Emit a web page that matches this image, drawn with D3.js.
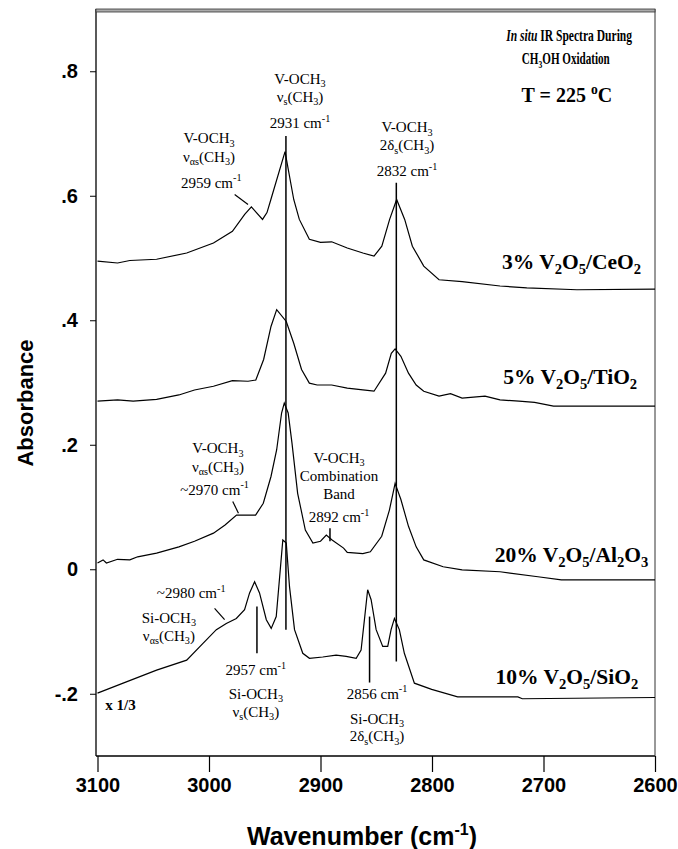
<!DOCTYPE html>
<html><head><meta charset="utf-8">
<script src="https://cdn.jsdelivr.net/npm/d3@7"></script>
<style>body{margin:0;background:#fff}svg{display:block}</style>
</head><body>
<svg id="c" width="678" height="849"></svg>
<script>
// ---------------- data (wavenumber cm-1, absorbance) ----------------
const wnTicks = [3100, 3000, 2900, 2800, 2700, 2600];
const absTicks = [0.8, 0.6, 0.4, 0.2, 0, -0.2];
const absTickLabels = [".8", ".6", ".4", ".2", "0", "-.2"];

const ceo2 = [[3100,0.495],[3082,0.492],[3071,0.496],[3047,0.498],[3020,0.508],[2996,0.524],[2979,0.543],[2968,0.570],[2962,0.582],[2952,0.562],[2948,0.573],[2944.5,0.594],[2931.8,0.671],[2924,0.594],[2919,0.562],[2910,0.530],[2900,0.525],[2890,0.526],[2876,0.516],[2862,0.508],[2852,0.503],[2845,0.519],[2838,0.562],[2831.7,0.594],[2824.5,0.562],[2817.6,0.519],[2807.4,0.487],[2793.7,0.465],[2773,0.462],[2739,0.455],[2715,0.452],[2670,0.449],[2600,0.450]];
const tio2 = [[3100,0.270],[3082,0.272],[3068,0.270],[3047,0.273],[3027,0.280],[3013,0.288],[2996,0.294],[2979,0.303],[2965,0.302],[2958,0.304],[2951,0.337],[2944.4,0.390],[2939.3,0.417],[2930.7,0.398],[2924,0.363],[2917,0.321],[2910,0.299],[2903,0.296],[2890,0.296],[2876,0.291],[2862,0.288],[2852,0.286],[2841.6,0.315],[2836.5,0.347],[2833.1,0.354],[2827.9,0.342],[2821.1,0.315],[2814.2,0.296],[2807.4,0.286],[2793.7,0.278],[2783.4,0.282],[2773,0.275],[2752.5,0.278],[2739,0.272],[2722,0.270],[2708,0.268],[2691,0.262],[2600,0.262]];
const al2o3 = [[3100,0.010],[3095,0.015],[3092,0.010],[3082,0.016],[3071,0.015],[3064,0.020],[3047,0.026],[3027,0.036],[3013,0.045],[2996,0.058],[2985.6,0.071],[2975.3,0.087],[2958.2,0.087],[2951.3,0.106],[2944.4,0.149],[2939.3,0.192],[2934.9,0.251],[2932.5,0.267],[2929,0.251],[2925.6,0.203],[2920.5,0.122],[2913.6,0.063],[2906.8,0.042],[2900,0.045],[2894.8,0.055],[2889.6,0.047],[2879.3,0.034],[2876,0.027],[2862,0.025],[2855.3,0.028],[2845.1,0.053],[2838.2,0.095],[2833.1,0.138],[2827.9,0.112],[2821.1,0.069],[2814.2,0.036],[2807.4,0.015],[2790,0.004],[2773,-0.001],[2739,-0.004],[2705,-0.012],[2684,-0.017],[2600,-0.017]];
const sio2 = [[3100,-0.199],[3077,-0.183],[3047,-0.162],[3020,-0.146],[3005.4,-0.119],[2993.4,-0.097],[2984.5,-0.087],[2975.5,-0.079],[2968.1,-0.065],[2963.6,-0.038],[2959.1,-0.020],[2954.7,-0.038],[2948.6,-0.081],[2944.2,-0.095],[2939.7,-0.076],[2936.1,-0.001],[2933.8,0.047],[2930.7,0.042],[2927.8,-0.028],[2923.3,-0.097],[2915.9,-0.135],[2909.9,-0.143],[2898,-0.141],[2886,-0.138],[2877,-0.140],[2868,-0.143],[2863.6,-0.130],[2860.6,-0.081],[2857.7,-0.033],[2854.6,-0.049],[2850.1,-0.097],[2844.2,-0.124],[2839.7,-0.124],[2836.7,-0.097],[2833.7,-0.079],[2829.3,-0.097],[2824.8,-0.135],[2815.8,-0.183],[2800.3,-0.193],[2777,-0.205],[2723,-0.205],[2719,-0.208],[2600,-0.206]];
const seriesList = [ceo2, tio2, al2o3, sio2];

// peak marker lines: [wavenumber, absorbance from, absorbance to]
const peakLines = [[2931,0.696,-0.097],[2832,0.621,-0.148],[2957,-0.060,-0.135],[2856,-0.076,-0.182],[2891.5,0.066,0.045]];
// leader lines: [wn1, a1, wn2, a2]
const leaderLines = [[2977,0.602,2965,0.586],[2978.7,0.109,2973.6,0.090],[2995,-0.063,2986,-0.081]];

// annotation labels: [wn, abs, segments]; segments [text, kind]
const annotations = [
  [2918.4, 0.780, [["V-OCH","n"],["3","sub"]]],
  [2918.4, 0.751, [["ν","n"],["s","sub"],["(CH","n"],["3","sub"],[")","n"]]],
  [2918.4, 0.709, [["2931 cm","n"],["-1","sup"]]],
  [3000, 0.684, [["V-OCH","n"],["3","sub"]]],
  [3000, 0.655, [["ν","n"],["αs","sub"],["(CH","n"],["3","sub"],[")","n"]]],
  [2998, 0.613, [["2959 cm","n"],["-1","sup"]]],
  [2822.4, 0.702, [["V-OCH","n"],["3","sub"]]],
  [2822.4, 0.673, [["2δ","n"],["s","sub"],["(CH","n"],["3","sub"],[")","n"]]],
  [2822.4, 0.631, [["2832 cm","n"],["-1","sup"]]],
  [2992, 0.186, [["V-OCH","n"],["3","sub"]]],
  [2992, 0.157, [["ν","n"],["αs","sub"],["(CH","n"],["3","sub"],[")","n"]]],
  [2995, 0.120, [["~2970 cm","n"],["-1","sup"]]],
  [2883.4, 0.171, [["V-OCH","n"],["3","sub"]]],
  [2883.4, 0.142, [["Combination","n"]]],
  [2883.4, 0.113, [["Band","n"]]],
  [2883.4, 0.076, [["2892 cm","n"],["-1","sup"]]],
  [3016, -0.046, [["~2980 cm","n"],["-1","sup"]]],
  [3036, -0.086, [["Si-OCH","n"],["3","sub"]]],
  [3036, -0.115, [["ν","n"],["αs","sub"],["(CH","n"],["3","sub"],[")","n"]]],
  [2958, -0.170, [["2957 cm","n"],["-1","sup"]]],
  [2958, -0.208, [["Si-OCH","n"],["3","sub"]]],
  [2958, -0.237, [["ν","n"],["s","sub"],["(CH","n"],["3","sub"],[")","n"]]],
  [2849.3, -0.208, [["2856 cm","n"],["-1","sup"]]],
  [2849.3, -0.248, [["Si-OCH","n"],["3","sub"]]],
  [2849.3, -0.276, [["2δ","n"],["s","sub"],["(CH","n"],["3","sub"],[")","n"]]]
];
// sample labels: [wn (right end), abs, segments]
const sampleLabels = [
  [2612.5, 0.483, [["3% V","n"],["2","sub"],["O","n"],["5","sub"],["/CeO","n"],["2","sub"]]],
  [2616, 0.298, [["5% V","n"],["2","sub"],["O","n"],["5","sub"],["/TiO","n"],["2","sub"]]],
  [2606, 0.012, [["20% V","n"],["2","sub"],["O","n"],["5","sub"],["/Al","n"],["2","sub"],["O","n"],["3","sub"]]],
  [2615, -0.184, [["10% V","n"],["2","sub"],["O","n"],["5","sub"],["/SiO","n"],["2","sub"]]]
];
// title lines: [wn centre, abs, segments, rendered width in px]
const titleLines = [
  [2677, 0.848, [["In situ","i"],[" IR Spectra During","n"]], 126],
  [2680, 0.811, [["CH","n"],["3","sub"],["OH Oxidation","n"]], 88]
];
const tempLabel = [2679, 0.750, [["T = 225 ","n"],["o","sup"],["C","n"]]];
const scaleNote = [3093, -0.226, [["x 1/3","n"]]];

// ---------------- drawing ----------------
const svg = d3.select("#c");
const x = d3.scaleLinear().domain([3100, 2600]).range([97.5, 655]);
const y = d3.scaleLinear().domain([-0.3, 0.9]).range([756, 9]);
const serif = "'Liberation Serif','Times New Roman',serif";
const sans = "'Liberation Sans',Arial,Helvetica,sans-serif";

function rich(g, px, py, segs, fs, anchor, weight) {
  const t = g.append("text").attr("x", px).attr("y", py)
    .attr("text-anchor", anchor).attr("font-family", serif)
    .attr("font-size", fs).attr("font-weight", weight).attr("fill", "#000");
  let off = 0;
  segs.forEach(([s, k]) => {
    const target = k === "sub" ? 0.24 * fs : k === "sup" ? -0.42 * fs : 0;
    const ts = t.append("tspan").attr("dy", (target - off).toFixed(2)).text(s);
    if (k === "sub" || k === "sup") ts.attr("font-size", (fs * 0.68).toFixed(1));
    if (k === "i") ts.attr("font-style", "italic");
    off = target;
  });
  return t;
}

// frame
const x0 = x(3100) - 1.5, x1 = x(2600), yT = y(0.9), yB = y(-0.3);
svg.append("line").attr("x1", x0).attr("x2", x0).attr("y1", yT).attr("y2", yB).attr("stroke", "#000").attr("stroke-width", 1.3);
svg.append("line").attr("x1", x0).attr("x2", x1).attr("y1", yB).attr("y2", yB).attr("stroke", "#000").attr("stroke-width", 1.3);
svg.append("line").attr("x1", x1).attr("x2", x1).attr("y1", yT).attr("y2", yB).attr("stroke", "#333").attr("stroke-width", 1);
svg.append("rect").attr("x", x0).attr("y", yT).attr("width", x1 - x0).attr("height", 3)
  .attr("fill", "#aaa").attr("stroke", "#333").attr("stroke-width", 0.8);

// x axis
const xAxis = d3.axisBottom(x).tickValues(wnTicks).tickSize(16).tickPadding(6).tickFormat(d3.format("d"));
const gx = svg.append("g").attr("transform", `translate(0,${yB})`).call(xAxis);
gx.select(".domain").remove();
gx.selectAll("line").attr("stroke", "#000").attr("stroke-width", 1.2);
gx.selectAll("text").attr("font-family", sans).attr("font-weight", "bold").attr("font-size", 20).attr("fill", "#000");

// y axis
const yAxis = d3.axisLeft(y).tickValues(absTicks).tickSize(6).tickPadding(12)
  .tickFormat((d, i) => absTickLabels[i]);
const gy = svg.append("g").attr("transform", `translate(${x0},0)`).call(yAxis);
gy.select(".domain").remove();
gy.selectAll("line").attr("stroke", "#000").attr("stroke-width", 1);
gy.selectAll("text").attr("font-family", sans).attr("font-weight", "bold").attr("font-size", 20).attr("fill", "#000");

// axis titles
const xt = svg.append("text").attr("x", 362).attr("y", 845).attr("text-anchor", "middle")
  .attr("font-family", sans).attr("font-weight", "bold").attr("font-size", 25);
xt.append("tspan").text("Wavenumber (cm");
xt.append("tspan").attr("dy", -10).attr("font-size", 16).text("-1");
xt.append("tspan").attr("dy", 10).text(")");
svg.append("text").attr("transform", "translate(33,403) rotate(-90)").attr("text-anchor", "middle")
  .attr("font-family", sans).attr("font-weight", "bold").attr("font-size", 22).text("Absorbance");

// spectra
const line = d3.line().x(d => x(d[0])).y(d => y(d[1]));
svg.append("g").selectAll("path").data(seriesList).join("path")
  .attr("d", line).attr("fill", "none").attr("stroke", "#000").attr("stroke-width", 1.2);

// peak lines
svg.append("g").selectAll("line").data(peakLines).join("line")
  .attr("x1", d => x(d[0])).attr("x2", d => x(d[0]))
  .attr("y1", d => y(d[1])).attr("y2", d => y(d[2]))
  .attr("stroke", "#000").attr("stroke-width", 1.5);
svg.append("g").selectAll("line").data(leaderLines).join("line")
  .attr("x1", d => x(d[0])).attr("y1", d => y(d[1]))
  .attr("x2", d => x(d[2])).attr("y2", d => y(d[3]))
  .attr("stroke", "#000").attr("stroke-width", 1.2);

// labels
const gl = svg.append("g");
annotations.forEach(([w, a, segs]) => rich(gl, x(w), y(a), segs, 15, "middle", "normal"));
sampleLabels.forEach(([w, a, segs]) => rich(gl, x(w), y(a), segs, 21.5, "end", "bold"));
// title: bold serif, horizontally condensed to the reference width
titleLines.forEach(([w, a, segs, len]) => {
  const g = gl.append("g");
  const t = rich(g, 0, 0, segs, 16.5, "middle", "bold");
  const natural = t.node().getComputedTextLength() || len;
  g.attr("transform", `translate(${x(w)},${y(a)}) scale(${(len / natural).toFixed(3)},1)`);
});
rich(gl, x(tempLabel[0]), y(tempLabel[1]), tempLabel[2], 20, "middle", "bold");
rich(gl, x(scaleNote[0]), y(scaleNote[1]), scaleNote[2], 15, "start", "bold");
</script>
</body></html>
